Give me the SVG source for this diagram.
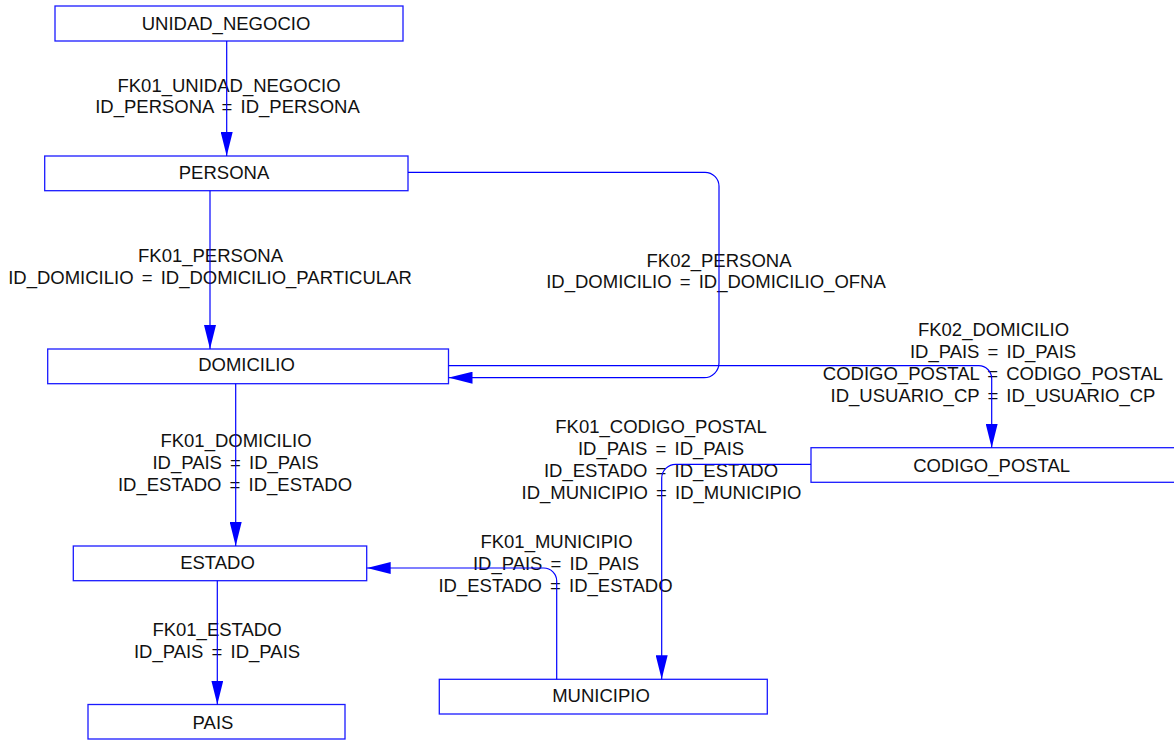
<svg xmlns="http://www.w3.org/2000/svg" width="1174" height="740" viewBox="0 0 1174 740">
  <style>
    .box { fill: #ffffff; stroke: #1a1aff; stroke-width: 1.3; }
    .name { font-family: "Liberation Sans", Arial, sans-serif; font-size: 18.5px; fill: #111111; text-anchor: middle; }
    .lbl { font-family: "Liberation Sans", Arial, sans-serif; font-size: 18.5px; fill: #111111; text-anchor: middle; word-spacing: 3px; }
    .fk { fill: none; stroke: #0000ff; stroke-width: 1.2; marker-end: url(#head); }
  </style>
  <defs>
    <marker id="head" viewBox="0 0 24 12" refX="24" refY="6" markerWidth="24" markerHeight="12" markerUnits="userSpaceOnUse" orient="auto">
      <path d="M0,0 L24,6 L0,12 Z" fill="#0000ff"/>
    </marker>
  </defs>

  <rect width="1174" height="740" fill="#ffffff"/>

  <!-- tables -->
  <g id="unidad_negocio">
    <rect class="box" x="55" y="6" width="348" height="35"/>
    <text class="name" x="226" y="29.5">UNIDAD_NEGOCIO</text>
  </g>
  <g id="persona">
    <rect class="box" x="44.7" y="156" width="363.3" height="34.7"/>
    <text class="name" x="224" y="178.5">PERSONA</text>
  </g>
  <g id="domicilio">
    <rect class="box" x="47.7" y="349" width="400.8" height="34.7"/>
    <text class="name" x="246.5" y="371">DOMICILIO</text>
  </g>
  <g id="estado">
    <rect class="box" x="73.3" y="546" width="293.4" height="34.7"/>
    <text class="name" x="217.5" y="568.5">ESTADO</text>
  </g>
  <g id="pais">
    <rect class="box" x="88" y="704.5" width="257" height="34.5"/>
    <text class="name" x="213" y="728.5">PAIS</text>
  </g>
  <g id="municipio">
    <rect class="box" x="439.3" y="679.3" width="328" height="34.7"/>
    <text class="name" x="601" y="701.5">MUNICIPIO</text>
  </g>
  <g id="codigo_postal">
    <rect class="box" x="811" y="447.7" width="366" height="34.6"/>
    <text class="name" x="991.7" y="472">CODIGO_POSTAL</text>
  </g>

  <!-- foreign keys -->
  <g id="connectors">
    <g class="labels">
      <text class="lbl" x="229" y="91.5">FK01_UNIDAD_NEGOCIO</text>
      <text class="lbl" x="227.5" y="112.5">ID_PERSONA = ID_PERSONA</text>

      <text class="lbl" x="210.5" y="262">FK01_PERSONA</text>
      <text class="lbl" x="210" y="284">ID_DOMICILIO = ID_DOMICILIO_PARTICULAR</text>

      <text class="lbl" x="719" y="266.7">FK02_PERSONA</text>
      <text class="lbl" x="716" y="287.5">ID_DOMICILIO = ID_DOMICILIO_OFNA</text>

      <text class="lbl" x="993.5" y="335.5">FK02_DOMICILIO</text>
      <text class="lbl" x="993" y="357.5">ID_PAIS = ID_PAIS</text>
      <text class="lbl" x="993" y="379.5">CODIGO_POSTAL = CODIGO_POSTAL</text>
      <text class="lbl" x="993" y="401.5">ID_USUARIO_CP = ID_USUARIO_CP</text>

      <text class="lbl" x="661" y="433">FK01_CODIGO_POSTAL</text>
      <text class="lbl" x="661" y="455">ID_PAIS = ID_PAIS</text>
      <text class="lbl" x="661" y="477">ID_ESTADO = ID_ESTADO</text>
      <text class="lbl" x="661.5" y="499">ID_MUNICIPIO = ID_MUNICIPIO</text>

      <text class="lbl" x="236" y="447">FK01_DOMICILIO</text>
      <text class="lbl" x="235.5" y="468.5">ID_PAIS = ID_PAIS</text>
      <text class="lbl" x="235" y="491">ID_ESTADO = ID_ESTADO</text>

      <text class="lbl" x="556.5" y="548">FK01_MUNICIPIO</text>
      <text class="lbl" x="556" y="570">ID_PAIS = ID_PAIS</text>
      <text class="lbl" x="555.5" y="592">ID_ESTADO = ID_ESTADO</text>

      <text class="lbl" x="217" y="636">FK01_ESTADO</text>
      <text class="lbl" x="217" y="658">ID_PAIS = ID_PAIS</text>
    </g>

    <path id="fk01_unidad_negocio" class="fk" d="M226.7,41 V156"/>
    <path id="fk01_persona" class="fk" d="M210,190.7 V349"/>
    <path id="fk02_persona" class="fk" d="M408,172.3 H705 A14,14 0 0 1 719,186.3 V362.7 A15,15 0 0 1 704,377.7 H448.5"/>
    <path id="fk02_domicilio" class="fk" d="M448.5,365.7 H978.7 A13,13 0 0 1 991.7,378.7 V447.7"/>
    <path id="fk01_codigo_postal" class="fk" d="M811,464.3 H675.7 A14,14 0 0 0 661.7,478.3 V679.3"/>
    <path id="fk01_domicilio" class="fk" d="M235.7,383.7 V546"/>
    <path id="fk01_municipio" class="fk" d="M556.7,679.3 V581 A13,13 0 0 0 543.7,568 H366.7"/>
    <path id="fk01_estado" class="fk" d="M217.3,580.7 V704.5"/>
  </g>
</svg>
